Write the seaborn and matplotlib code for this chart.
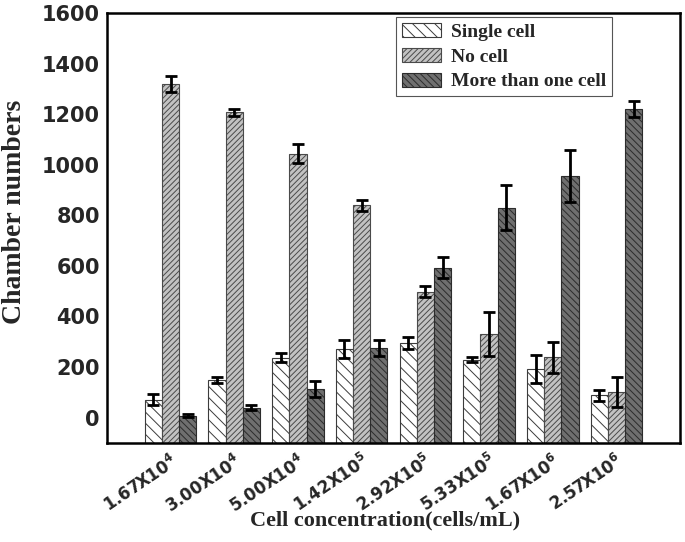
import numpy as np
import matplotlib
matplotlib.use("Agg")
import matplotlib.pyplot as plt
import matplotlib.transforms as mtrans
import seaborn as sns

# Data
mantissas = ["1.67", "3.00", "5.00", "1.42", "2.92", "5.33", "1.67", "2.57"]
exponents = [4, 4, 4, 5, 5, 5, 6, 6]

single_cell = [70, 147, 237, 272, 295, 228, 193, 88]
single_cell_err = [22, 12, 17, 35, 25, 10, 55, 22]
no_cell = [1320, 1208, 1043, 840, 498, 331, 238, 101]
no_cell_err = [31, 14, 37, 22, 22, 88, 61, 60]
multi_cell = [8, 38, 113, 275, 593, 830, 955, 1220]
multi_cell_err = [7, 10, 30, 33, 40, 90, 104, 33]

series_labels = ["Single cell", "No cell", "More than one cell"]
yticks = [0, 200, 400, 600, 800, 1000, 1200, 1400, 1600]


def set_plot_style():
    sns.set_style("white")
    plt.rcParams["font.family"] = ["DejaVu Sans"]
    plt.rcParams["mathtext.default"] = "regular"
    plt.rcParams["hatch.linewidth"] = 0.7
    plt.rcParams["axes.linewidth"] = 1.8
    plt.rcParams["axes.edgecolor"] = "black"


set_plot_style()

fig = plt.figure(figsize=(6.85, 5.42), dpi=100)
ax = fig.add_axes([0.156, 0.183, 0.837, 0.793])

x = np.arange(1, len(mantissas) + 1)
width = 0.27
ymin = -100

styles = [
    dict(facecolor="white", edgecolor="#3c3c3c", hatch="\\\\\\"),
    dict(facecolor="#c2c2c2", edgecolor="#4a4a4a", hatch="//////"),
    dict(facecolor="#6f6f6f", edgecolor="#2c2c2c", hatch="\\\\\\\\\\"),
]
values = [single_cell, no_cell, multi_cell]
errors = [single_cell_err, no_cell_err, multi_cell_err]

for i, (label, vals, errs, st) in enumerate(zip(series_labels, values, errors, styles)):
    xpos = x + (i - 1) * width
    vals = np.array(vals)
    # Origin-style bars start at the bottom of the axis
    ax.bar(xpos, vals - ymin, width, bottom=ymin, label=label, linewidth=0.8, **st)
    ax.errorbar(xpos, vals, yerr=errs, fmt="none", ecolor="black",
                elinewidth=2, capsize=4, capthick=2, zorder=5)

ax.set_xlim(0, len(mantissas) + 1)
ax.set_ylim(ymin, 1600)
ax.set_yticks(yticks)
ax.set_yticklabels([str(t) for t in yticks], fontsize=15, fontweight="bold")
ax.set_xticks(x)
ax.set_xticklabels([f"{m}X10$^{{{e}}}$" for m, e in zip(mantissas, exponents)],
                   fontsize=12, fontweight="bold", rotation=34,
                   ha="right", va="center", rotation_mode="anchor")
ax.tick_params(axis="both", length=0)
ax.tick_params(axis="y", pad=5)
ax.tick_params(axis="x", pad=12)

# nudge the rotated labels a few pixels to the right
shift = mtrans.ScaledTranslation(5 / 100, 0, fig.dpi_scale_trans)
for lbl in ax.get_xticklabels():
    lbl.set_transform(lbl.get_transform() + shift)

ax.set_xlabel("Cell concentration(cells/mL)", family="Liberation Serif",
              fontsize=16, fontweight="bold")
ax.xaxis.set_label_coords(0.485, -0.158)
ax.set_ylabel("Chamber numbers", family="Liberation Serif",
              fontsize=20, fontweight="bold")
ax.yaxis.set_label_coords(-0.14, 0.537)

leg = ax.legend(loc="upper left", bbox_to_anchor=(0.505, 0.99), borderaxespad=0,
                prop={"family": "Liberation Serif", "weight": "bold", "size": 14},
                handlelength=2.0, handleheight=0.75, labelspacing=0.35,
                fancybox=False, framealpha=1, edgecolor="#555555",
                borderpad=0.3, handletextpad=0.5)
leg.get_frame().set_linewidth(0.8)

plt.savefig("out.png", dpi=100)
